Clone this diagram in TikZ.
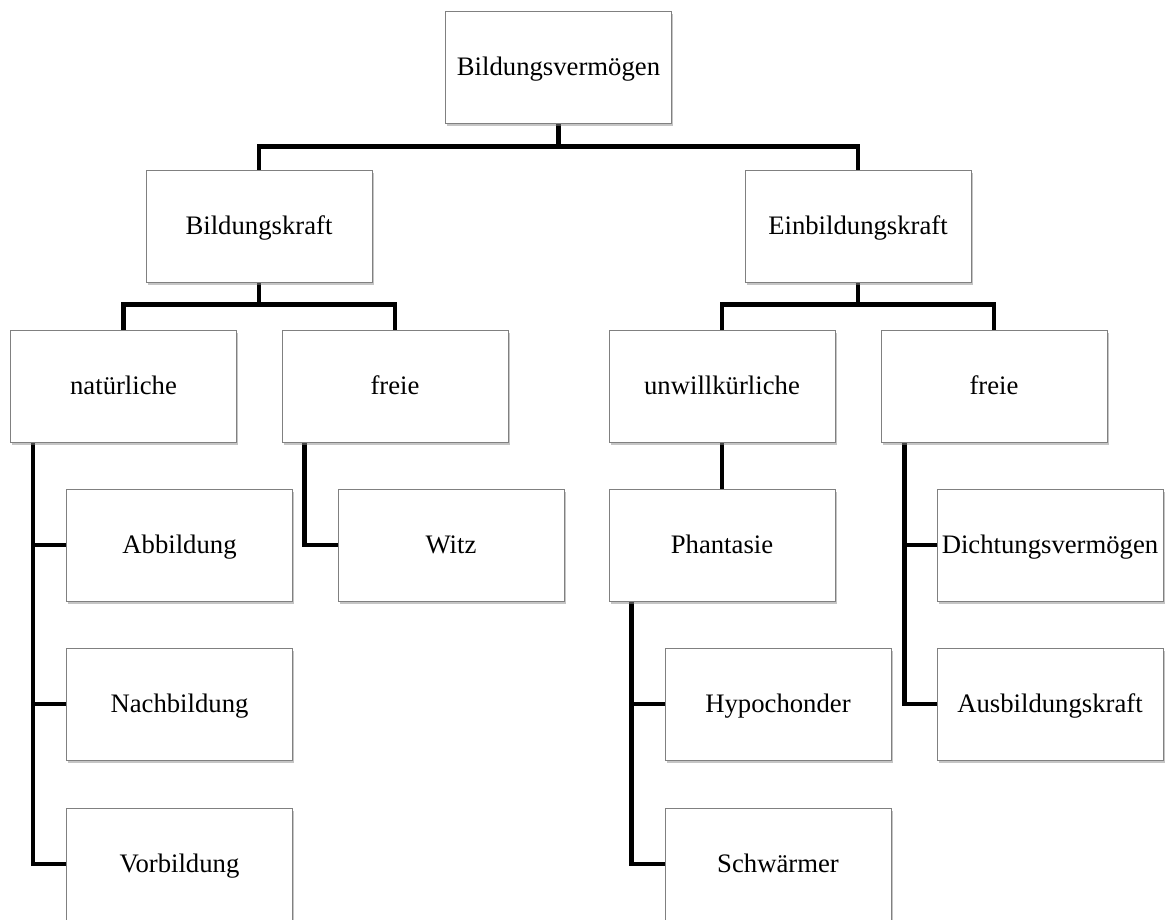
\documentclass[tikz,border=0pt]{standalone}
\usepackage{fontspec}
\setmainfont{Liberation Serif}
\usetikzlibrary{shadows,backgrounds}
\begin{document}
\begin{tikzpicture}[x=1pt,y=-1pt,
  box/.style={draw=black!50, line width=0.8pt, fill=white, minimum width=226pt, minimum height=112pt,
    inner sep=0pt, text height=17pt, text depth=0pt, font=\fontsize{26.7}{30}\selectfont,
    drop shadow={shadow xshift=1.5pt, shadow yshift=-2.5pt, fill=black!45, opacity=0.5}},
  conn/.style={line width=4.6pt, line join=miter}]
\useasboundingbox (0,0) rectangle (1165,919);
\begin{scope}
\clip (0,0) rectangle (1165,919);
% nodes
\node[box] (top) at (558.5,67) {Bildungsvermögen};
\node[box] (bk) at (259,226) {Bildungskraft};
\node[box] (ek) at (858,226) {Einbildungskraft};
\node[box] (nat) at (123.5,386) {natürliche};
\node[box] (fl) at (395,386) {freie};
\node[box] (unw) at (722,386) {unwillkürliche};
\node[box] (fr) at (994,386) {freie};
\node[box] (abb) at (179.5,545) {Abbildung};
\node[box] (witz) at (451,545) {Witz};
\node[box] (phan) at (722,545) {Phantasie};
\node[box] (dicht) at (1050,545) {Dichtungsvermögen};
\node[box] (nach) at (179.5,704) {Nachbildung};
\node[box] (hyp) at (778,704) {Hypochonder};
\node[box] (ausb) at (1050,704) {Ausbildungskraft};
\node[box] (vor) at (179.5,864) {Vorbildung};
\node[box] (schw) at (778,864) {Schwärmer};
% connectors (behind boxes)
\begin{scope}[on background layer]
\draw[conn] (top.south) -- ++(0,26);
\draw[conn] (bk.north) -- ++(0,-23) -| (ek.north);
\draw[conn] (bk.south) -- ++(0,24);
\draw[conn] (nat.north) -- ++(0,-25) -| (fl.north);
\draw[conn] (ek.south) -- ++(0,24);
\draw[conn] (unw.north) -- ++(0,-25) -| (fr.north);
\draw[conn] (unw.south) -- (phan.north);
\coordinate (natl) at ([xshift=23pt]nat.south west);
\draw[conn] (natl) |- (vor.west);
\draw[conn] (natl |- abb.west) -- (abb.west);
\draw[conn] (natl |- nach.west) -- (nach.west);
\coordinate (fll) at ([xshift=23pt]fl.south west);
\draw[conn] (fll) |- (witz.west);
\coordinate (phl) at ([xshift=23pt]phan.south west);
\draw[conn] (phl) |- (schw.west);
\draw[conn] (phl |- hyp.west) -- (hyp.west);
\coordinate (frl) at ([xshift=24pt]fr.south west);
\draw[conn] (frl) |- (ausb.west);
\draw[conn] (frl |- dicht.west) -- (dicht.west);
\end{scope}
\end{scope}
\end{tikzpicture}
\end{document}
